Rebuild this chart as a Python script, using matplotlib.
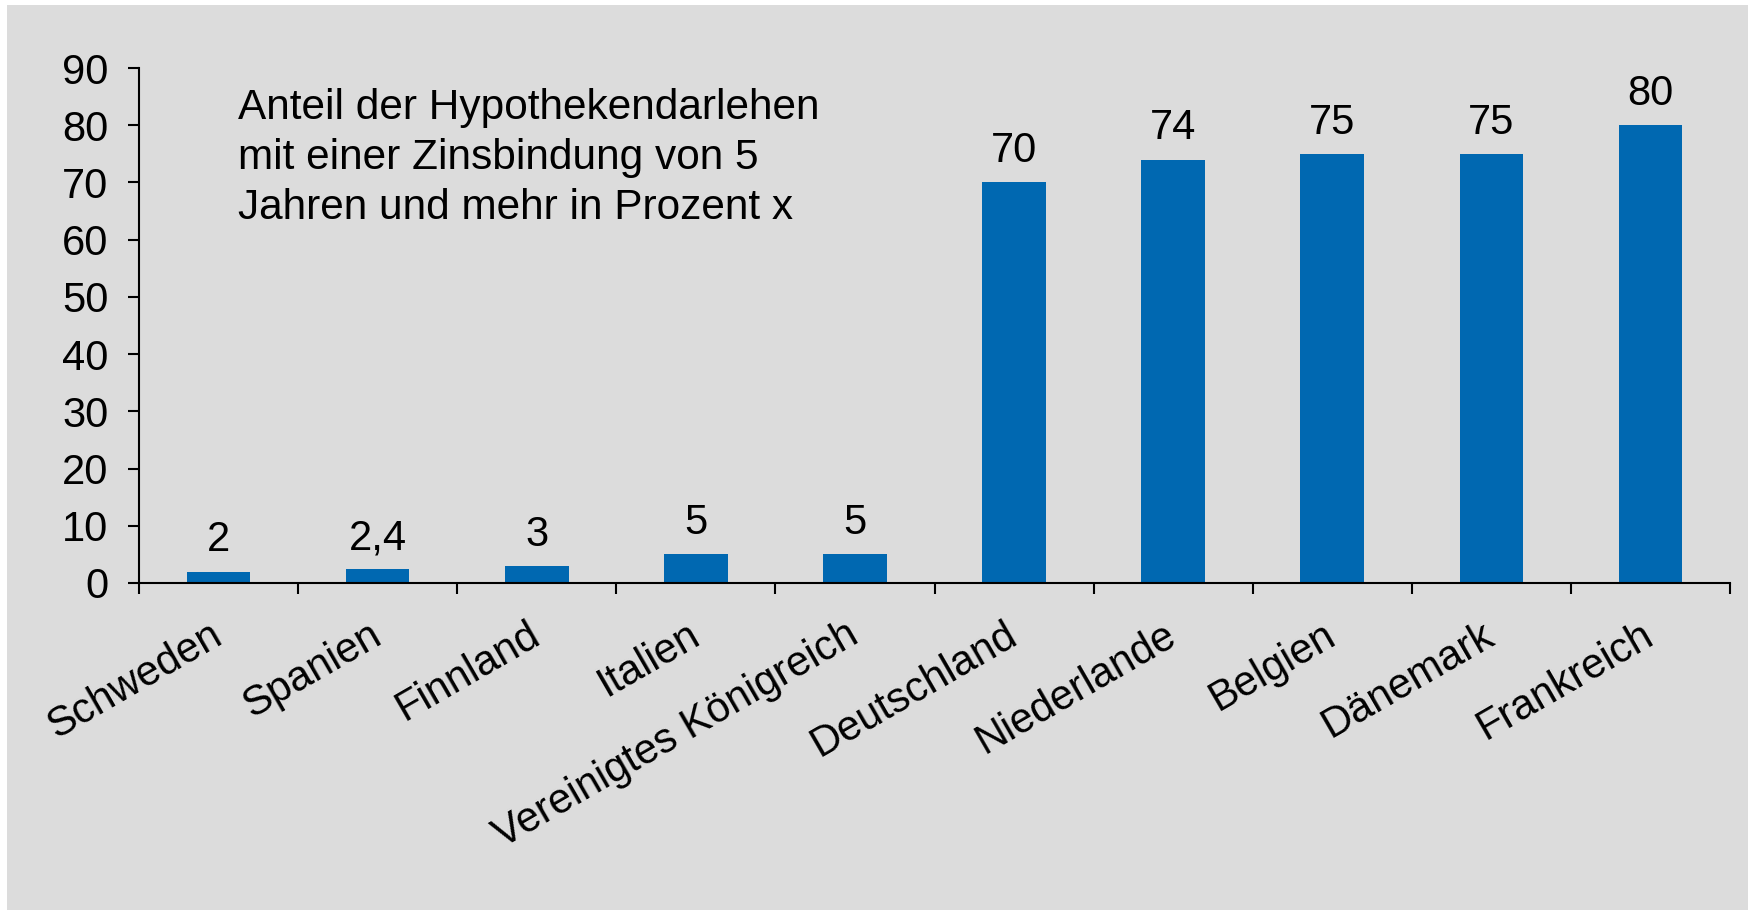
import matplotlib
matplotlib.use("Agg")
from matplotlib import pyplot as plt
from matplotlib.patches import Rectangle
from matplotlib.transforms import ScaledTranslation

countries = ["Schweden", "Spanien", "Finnland", "Italien", "Vereinigtes Königreich",
             "Deutschland", "Niederlande", "Belgien", "Dänemark", "Frankreich"]
shares = [2, 2.4, 3, 5, 5, 70, 74, 75, 75, 80]
value_labels = ["2", "2,4", "3", "5", "5", "70", "74", "75", "75", "80"]
y_ticks = [0, 10, 20, 30, 40, 50, 60, 70, 80, 90]

plt.rcParams['font.family'] = ['Liberation Sans', 'DejaVu Sans']
FS = 30

W, H = 1750, 910
fig = plt.figure(figsize=(17.5, 9.1), dpi=100, facecolor="white")
# grey panel with thin white margin
fig.patches.append(Rectangle((7 / W, 0), (1748 - 7) / W, (910 - 5) / H,
                             transform=fig.transFigure, facecolor="#dcdcdc",
                             edgecolor="none", zorder=-10))

ax = fig.add_axes([139 / W, 1 - 583 / H, (1730 - 139) / W, (583 - 68) / H])
ax.set_facecolor("none")
ax.set_zorder(5)

x = list(range(len(countries)))
bars = ax.bar(x, shares, width=0.4, color="#0068b1", zorder=2)
for xi, v, lab in zip(x, shares, value_labels):
    ax.annotate(lab, (xi, v), xytext=(0, 8), textcoords="offset points",
                ha="center", va="bottom", fontsize=FS)

ax.set_xlim(-0.5, len(countries) - 0.5)
ax.set_ylim(0, 90)
ax.set_yticks(y_ticks)
ax.tick_params(axis="y", labelsize=FS, length=8, width=1.5, direction="out", pad=14)

# category labels centred, ticks on the boundaries
ax.set_xticks(x)
ax.set_xticklabels(countries, rotation=30, ha="right", rotation_mode="anchor", fontsize=FS)
ax.tick_params(axis="x", which="major", length=0, pad=23)
ax.set_xticks([i - 0.5 for i in range(len(countries) + 1)], minor=True)
ax.tick_params(axis="x", which="minor", length=8, width=1.5, direction="out")
shift = ScaledTranslation(-7 / 72, 0, fig.dpi_scale_trans)
for lbl in ax.get_xticklabels():
    lbl.set_transform(lbl.get_transform() + shift)

for s in ["top", "right"]:
    ax.spines[s].set_visible(False)
for s in ["left", "bottom"]:
    ax.spines[s].set_linewidth(1.5)

ax.text(238 / W, 1 - 88 / H,
        "Anteil der Hypothekendarlehen\nmit einer Zinsbindung von 5\nJahren und mehr in Prozent x",
        transform=fig.transFigure, ha="left", va="top", fontsize=30.5, linespacing=1.32)

fig.savefig("out.png", dpi=100, facecolor="white")
